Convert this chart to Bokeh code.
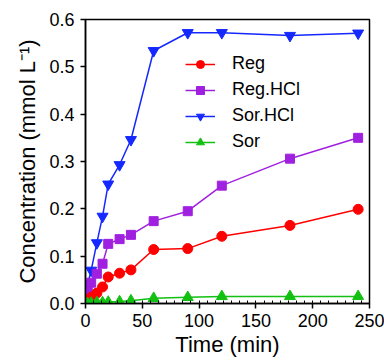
from bokeh.plotting import figure
from bokeh.models import Range1d, SingleIntervalTicker, Legend, LegendItem, FixedTicker, CustomJSTickFormatter
from bokeh.embed import file_html
from bokeh.resources import INLINE

time = [0, 2, 5, 10, 15, 20, 30, 40, 60, 90, 120, 180, 240]
reg = [0.0, 0.006, 0.013, 0.022, 0.035, 0.056, 0.064, 0.071, 0.114, 0.116, 0.142, 0.165, 0.199]
reg_hcl = [0.008, 0.026, 0.044, 0.063, 0.084, 0.126, 0.136, 0.145, 0.174, 0.195, 0.249, 0.306, 0.350]
sor_hcl = [0.0, 0.042, 0.070, 0.128, 0.184, 0.252, 0.293, 0.346, 0.534, 0.572, 0.572, 0.566, 0.571]
sor = [0.0, 0.0, 0.001, 0.002, 0.002, 0.003, 0.004, 0.006, 0.011, 0.013, 0.015, 0.015, 0.015]

y_ticks = [0.0, 0.1, 0.2, 0.3, 0.4, 0.5, 0.6]

FONT = "Liberation Sans"

p = figure(frame_width=284, frame_height=284, output_backend="svg", toolbar_location=None,
           x_range=Range1d(0, 250), y_range=Range1d(0, 0.6),
           min_border_left=85, min_border_right=15, min_border_top=19, min_border_bottom=58)
p.background_fill_color = "white"
p.border_fill_color = "white"
p.grid.visible = False
p.outline_line_color = "black"
p.outline_line_width = 1.5

p.xaxis.ticker = SingleIntervalTicker(interval=50, num_minor_ticks=7)
p.yaxis.ticker = FixedTicker(ticks=y_ticks)
p.yaxis.formatter = CustomJSTickFormatter(code="return tick.toFixed(1);")

for ax in (p.xaxis, p.yaxis):
    ax.axis_line_width = 1.5
    ax.axis_line_color = "black"
    ax.major_tick_line_width = 1.5
    ax.major_tick_line_color = "black"
    ax.major_tick_out = 5
    ax.major_tick_in = 0
    ax.major_label_text_font = FONT
    ax.major_label_text_font_size = "18px"
    ax.major_label_text_color = "black"
    ax.axis_label_text_font = FONT
    ax.axis_label_text_font_size = "22px"
    ax.axis_label_text_font_style = "normal"
    ax.axis_label_text_color = "black"

p.xaxis.minor_tick_in = 3
p.xaxis.minor_tick_out = 0
p.xaxis.minor_tick_line_color = "black"
p.xaxis.minor_tick_line_width = 1
p.yaxis.minor_tick_line_color = None
p.xaxis.major_label_standoff = 5
p.yaxis.major_label_standoff = 6
p.xaxis.axis_label_standoff = 2
p.yaxis.axis_label_standoff = 6
p.xaxis.axis_label = "Time (min)"
p.yaxis.axis_label = "Concentration (mmol L\u207B\u00B9)"

series = [
    ("Sor.HCl", sor_hcl, "#1428FF", "inverted_triangle", 11),
    ("Reg.HCl", reg_hcl, "#A020E0", "square", 9),
    ("Reg", reg, "#FF0000", "circle", 10),
    ("Sor", sor, "#12C012", "triangle", 11),
]
rends = {}
for name, ys, color, marker, size in series:
    l = p.line(time, ys, line_color=color, line_width=1.5)
    s = p.scatter(time, ys, marker=marker, size=size, fill_color=color, line_color=color)
    rends[name] = [l, s]

legend = Legend(items=[LegendItem(label=n, renderers=rends[n]) for n in ["Reg", "Reg.HCl", "Sor.HCl", "Sor"]],
                location=(100, 151), padding=0, margin=0, spacing=5,
                glyph_width=30, glyph_height=20, label_height=20, label_standoff=17,
                label_text_font=FONT, label_text_font_size="18px", label_text_color="black",
                border_line_alpha=0, background_fill_alpha=0)
p.add_layout(legend)

open("out.html", "w").write(file_html(p, INLINE))
